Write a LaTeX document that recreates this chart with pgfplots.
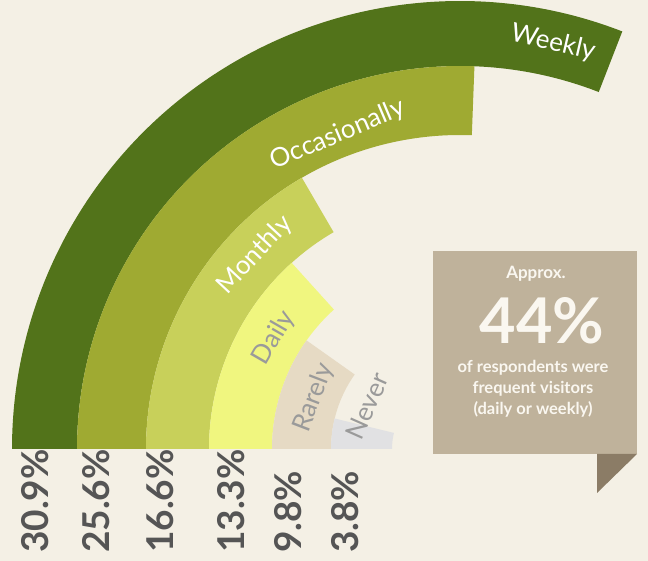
\documentclass[border=0pt]{standalone}
\usepackage{pgfplots}
\pgfplotsset{compat=1.18}
\usepackage{pgfplotstable}
\usepackage{fontspec}
\setmainfont{Lato}

\definecolor{bg}{HTML}{F4F0E5}
\definecolor{boxcol}{HTML}{BFB29B}
\definecolor{flapcol}{HTML}{8B7C66}
\definecolor{pctgrey}{HTML}{555555}
\definecolor{lblgrey}{HTML}{9A9A9A}
\definecolor{boxtext}{HTML}{FAF7F0}

\pgfplotsset{
  colormap={bands}{rgb255=(82,115,26) rgb255=(159,170,50) rgb255=(200,208,90)
    rgb255=(240,246,127) rgb255=(230,218,196) rgb255=(225,225,227)}
}

% ring sector: starts at 180 deg and sweeps clockwise by 3.6 deg per percent
\pgfdeclareplotmark{sector}{%
  \pgfmathsetmacro\angend{180-3.6*\val}%
  \pgfmathsetmacro\ro{\rout}%
  \pgfmathsetmacro\ri{\rin}%
  \pgfpathmoveto{\pgfpointpolar{180}{\ro pt}}%
  \pgfpatharc{180}{\angend}{\ro pt}%
  \pgfpathlineto{\pgfpointpolar{\angend}{\ri pt}}%
  \pgfpatharc{\angend}{180}{\ri pt}%
  \pgfpathclose
  \pgfusepath{fill}%
}

% value = share in percent, rin/rout = ring radii, idx = colour
\pgfplotstableread{
name          cx   cy   value  rin  rout  idx
Weekly        460  112  30.9   383  448   0
Occasionally  460  112  25.6   314  383   1
Monthly       460  112  16.6   251  314   2
Daily         460  112  13.3   188  251   3
Rarely        460  112  9.8    129  188   4
Never         460  112  3.8    68   129   5
}\bands

\begin{document}
\begin{tikzpicture}
\begin{axis}[
    name=ax,
    set layers,
    x=1pt, y=1pt,
    xmin=0, xmax=648, ymin=0, ymax=561,
    hide axis,
    clip=false,
    colormap name=bands,
    point meta min=0, point meta max=5,
]
\begin{pgfonlayer}{axis background}
\fill[bg] (axis cs:0,0) rectangle (axis cs:648,561);
\end{pgfonlayer}

\addplot[
    scatter, only marks, mark=sector,
    point meta=explicit,
    visualization depends on={\thisrow{value}\as\val},
    visualization depends on={\thisrow{rin}\as\rin},
    visualization depends on={\thisrow{rout}\as\rout},
] table[x=cx, y=cy, meta=idx] {\bands};

\begin{pgfonlayer}{axis foreground}
% ring labels
\begin{scope}[every node/.style={inner sep=0pt, font=\fontsize{26}{26}\selectfont}]
\node[white, rotate=-13] at (axis cs:553,518) {Weekly};
\node[white, rotate=23] at (axis cs:338,426) {Occasionally};
\node[white, rotate=47] at (axis cs:255,306) {Monthly};
\node[lblgrey, rotate=60] at (axis cs:274,223) {Daily};
\node[lblgrey, rotate=69] at (axis cs:314,163) {Rarely};
\node[lblgrey, rotate=66] at (axis cs:367,155) {Never};
\end{scope}

% percentages under the rings
\begin{scope}[every node/.style={inner sep=0pt, rotate=90, anchor=west,
    text=pctgrey, font=\bfseries\fontsize{37}{37}\selectfont}]
\node at (axis cs:35,8) {30.9\%};
\node at (axis cs:96,8) {25.6\%};
\node at (axis cs:160,8) {16.6\%};
\node at (axis cs:231,8) {13.3\%};
\node at (axis cs:288,8) {9.8\%};
\node at (axis cs:345,8) {3.8\%};
\end{scope}

% call-out box
\fill[boxcol] (axis cs:433,107) rectangle (axis cs:637,310);
\fill[flapcol] (axis cs:597,107) -- (axis cs:637,107) -- (axis cs:597,68) -- cycle;
\node[boxtext, font=\bfseries\fontsize{17}{17}\selectfont] at (axis cs:536,287) {Approx.};
\node[boxtext, font=\bfseries\fontsize{63}{63}\selectfont] at (axis cs:542,240) {44\%};
\node[boxtext, align=center, font=\bfseries\fontsize{16.5}{21}\selectfont] at (axis cs:533,172)
  {of respondents were\\frequent visitors\\(daily or weekly)};
\end{pgfonlayer}
\end{axis}
\pgfresetboundingbox
\path[use as bounding box] (ax.south west) rectangle (ax.north east);
\end{tikzpicture}
\end{document}
